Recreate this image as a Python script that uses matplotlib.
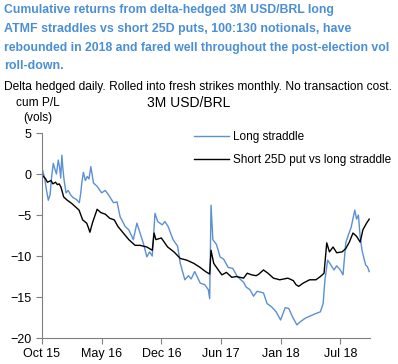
import matplotlib.pyplot as plt

plt.rcParams['font.family'] = ['Liberation Sans', 'DejaVu Sans']

# x in months since Oct 2015, values in vols
straddle_x = [0, 0.3, 0.5, 0.7, 0.9, 1.05, 1.25, 1.45, 1.6, 1.8, 1.95, 2.07, 2.2, 2.3, 2.44, 2.66, 2.9, 3.2,
              3.47, 3.8, 4.13, 4.3, 4.4, 4.58, 4.8, 5.0, 5.2, 5.4, 5.7, 6.1, 6.6, 7.0, 7.4, 7.9, 8.3, 8.64,
              9.2, 9.6, 10.1, 10.5, 10.85, 11.2, 11.6, 11.9, 12.2, 12.5, 12.8, 13.3, 13.6, 13.95, 14.5, 15.0,
              15.3, 15.8, 16.2, 16.5, 16.9, 17.5, 18.0, 18.4, 18.55, 18.7, 18.9, 19.3, 19.7, 20.1, 20.6, 21.1,
              21.6, 22.3, 22.6, 23.0, 23.4, 23.8, 24.5, 24.9, 25.4, 25.9, 26.4, 26.9, 27.3, 27.7, 28.2, 28.6,
              29.1, 29.5, 30.1, 30.8, 31.1, 31.3, 31.6, 31.9, 32.3, 32.6, 33.0, 33.3, 33.6, 33.9, 34.2, 34.6,
              34.8, 35.0, 35.2, 35.4, 35.8, 36.0, 36.2]
straddle_y = [0.7, -0.5, -2, -3.2, -2.5, -0.5, 1.3, 0.5, 0, 1.7, 0.8, -0.5, 2.3, 0.8, -0.7, -2.3, -2.0, -2.6,
              -2.9, -3.1, -3.5, -2.2, -1.1, 0.2, -0.8, -0.3, -0.6, 0.9, -1.1, -1.5, -2.3, -2.0, -2.6, -3.5, -3.4, -5.2,
              -6.4, -6.8, -8, -6, -7.2, -8.4, -10.1, -9.5, -10.0, -4.8, -5.8, -6.2, -5.8, -6.4, -8, -8.8,
              -10.9, -12.9, -12.4, -12.8, -11.9, -13.3, -13.5, -14.1, -15.2, -3.8, -8, -8.6, -10.1, -10.4, -11.4, -11.5,
              -12.5, -13.2, -13.8, -14.1, -14.9, -14.3, -14.5, -15.8, -16.2, -16.8, -17.8, -16.3, -16.4, -17.4, -18.4, -18.0,
              -17.6, -17.4, -17.1, -16.8, -15.8, -12.9, -10.5, -11, -11.7, -11.2, -11.7, -12.3, -8.4, -7.4, -6.5, -4.4,
              -5.5, -5.0, -7.7, -9.3, -11.1, -11.3, -11.9]

put_x = [0, 0.4, 0.6, 0.8, 1.0, 1.2, 1.5, 1.7, 1.9, 2.1, 2.4, 2.8, 3.3, 3.7, 4.1, 4.5, 4.95, 5.15, 5.3, 5.6,
         6.1, 6.5, 7.0, 7.5, 8.0, 8.4, 9.0, 9.6, 10.3, 10.85, 11.6, 12.2, 12.4, 12.6, 13.2, 13.9, 14.6, 15.3,
         16.0, 16.8, 17.5, 18.1, 18.55, 18.7, 19.0, 19.5, 19.9, 20.4, 21.0, 21.5, 22.3, 22.7, 23.2, 23.7, 24.0,
         24.5, 25.0, 25.6, 26.3, 27.2, 27.8, 28.1, 28.4, 28.9, 29.6, 30.3, 30.8, 31.2, 31.5, 31.8, 32.2, 32.6,
         33.2, 33.6, 34.0, 34.4, 34.8, 35.2, 35.5, 35.9, 36.2]
put_y = [-0.1, -0.6, -1, -0.9, -0.8, -1.2, -1.0, -1.3, -1.2, -1.6, -2.8, -3.2, -3.6, -4.0, -4.4, -5.6, -6, -6.6, -7.1, -5.9,
         -4.3, -4.7, -4.9, -5.4, -5.6, -6.4, -7.2, -8.0, -8.7, -8.7, -8.9, -9.3, -7.2, -8.0, -7.8, -8.9, -9.5, -10.3,
         -10.5, -10.9, -11.4, -11.9, -12.2, -9.3, -10.9, -11.7, -12.3, -12.0, -12.6, -12.5, -12.7, -12.1, -12.3, -12.4, -12.2,
         -11.7, -12.1, -12.7, -12.9, -12.7, -13.0, -13.5, -13.7, -13.3, -12.9, -12.9, -12.5, -12.1, -8.4, -9.5, -8.9, -9.6,
         -9.5, -9.1, -8.3, -7.2, -7.6, -8.3, -6.8, -6.0, -5.5]

tick_pos = [0, 6.6, 13.2, 19.8, 26.4, 33.0]
tick_labels = ['Oct 15', 'May 16', 'Dec 16', 'Jun 17', 'Jan 18', 'Jul 18']

title_lines = ['Cumulative returns from delta-hedged 3M USD/BRL long',
               'ATMF straddles vs short 25D puts, 100:130 notionals, have',
               'rebounded in 2018 and fared well throughout the post-election vol',
               'roll-down.']
subtitle = 'Delta hedged daily. Rolled into fresh strikes monthly. No transaction cost.'

fig = plt.figure(figsize=(3.98, 3.64), dpi=100)
ax = fig.add_axes([0.1055, 0.0714, 0.8245, 0.5632])

ax.plot(straddle_x, straddle_y, color='#5B8FD6', lw=1.0, label='Long straddle')
ax.plot(put_x, put_y, color='black', lw=1.0, label='Short 25D put vs long straddle')

ax.set_xlim(0, 36.3)
ax.set_ylim(-20, 5)
ax.set_yticks([5, 0, -5, -10, -15, -20])
ax.set_xticks(tick_pos)
ax.set_xticklabels(tick_labels)
for s in ['top', 'right']:
    ax.spines[s].set_visible(False)
for s in ['left', 'bottom']:
    ax.spines[s].set_color('#808080')
ax.tick_params(colors='#808080', labelcolor='black', labelsize=9, length=4, direction='out')

ax.legend(loc='upper left', bbox_to_anchor=(0.43, 1.06), frameon=False, fontsize=8.5,
          handlelength=3, labelspacing=0.9, handletextpad=0.3)

renderer = fig.canvas.get_renderer()


def fit_text(y, s, width_px, size, **kw):
    # shrink/grow the font so the line spans about width_px pixels
    t = fig.text(0.01, y, s, fontsize=size, va='center', **kw)
    w = t.get_window_extent(renderer).width
    t.set_fontsize(size * width_px / w)
    return t


title_widths = [329, 343, 383, 59]
for i, line in enumerate(title_lines):
    fit_text(0.9725 - i * 0.0515, line, title_widths[i], 9.3, color='#4A8FD6', fontweight='bold')
fit_text(0.761, subtitle, 384, 8.6)
fig.text(0.094, 0.717, 'cum P/L', fontsize=8.6, ha='center', va='center')
fig.text(0.094, 0.676, '(vols)', fontsize=8.6, ha='center', va='center')
fig.text(0.475, 0.717, '3M USD/BRL', fontsize=10, ha='center', va='center')

fig.savefig('out.png', dpi=100)
